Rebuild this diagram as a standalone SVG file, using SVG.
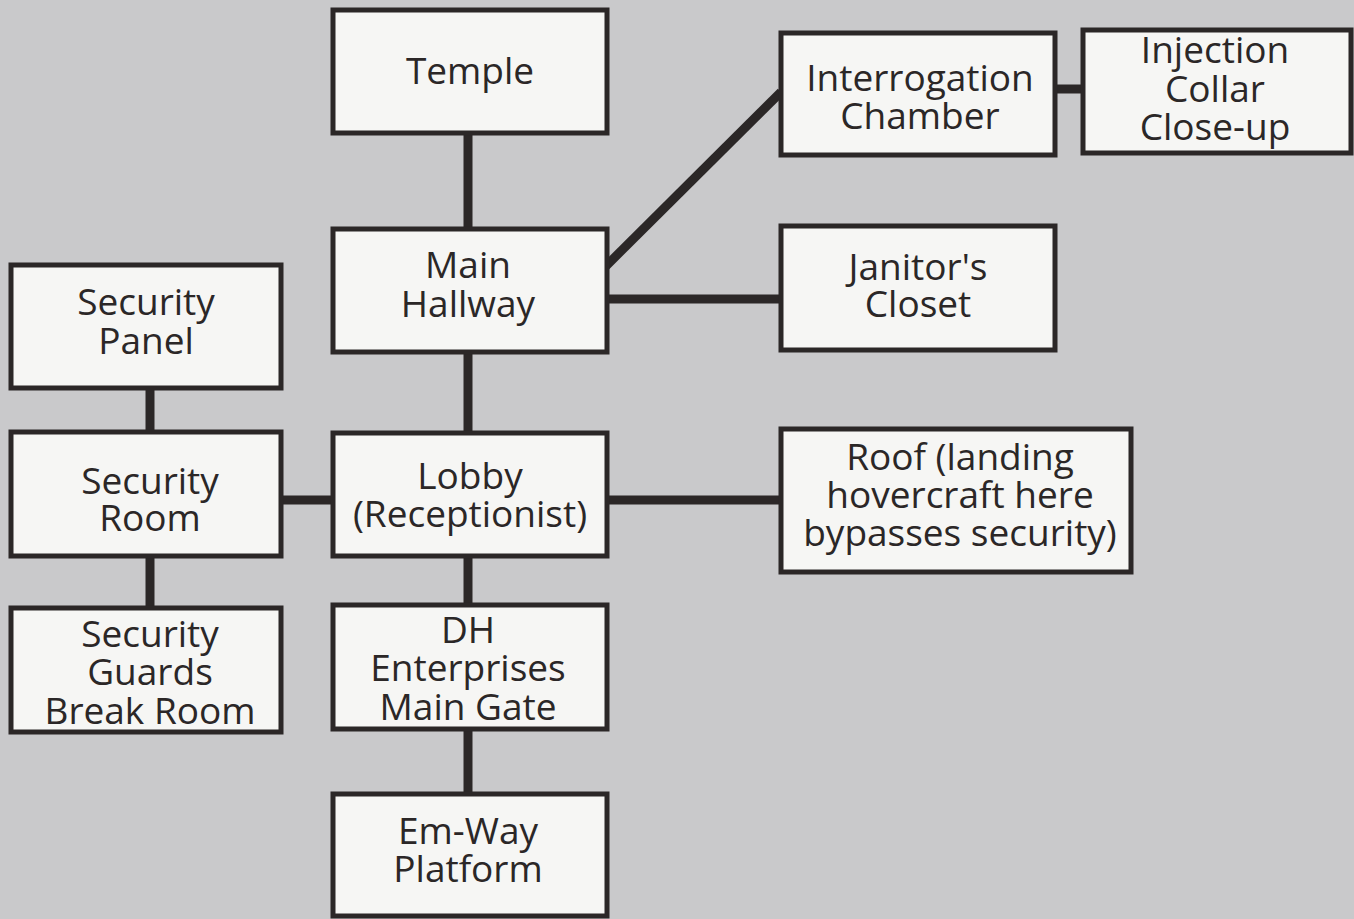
<svg xmlns="http://www.w3.org/2000/svg" width="1354" height="919" viewBox="0 0 1354 919">
<style>
.bg{fill:#c9c9cb}
.box{fill:#f6f6f4;stroke:#2b2727;stroke-width:5}
.c{stroke:#2b2727;stroke-width:9;fill:none}
text{font-family:"Open Sans","Noto Sans","Liberation Sans",sans-serif;font-size:37px;fill:#2b2727;text-anchor:middle}
</style>
<rect class="bg" x="0" y="0" width="1354" height="919"/>
<g id="connectors">
<line class="c" x1="468" y1="133" x2="468" y2="229"/>
<line class="c" x1="468" y1="352" x2="468" y2="433"/>
<line class="c" x1="468" y1="556" x2="468" y2="605"/>
<line class="c" x1="468" y1="729" x2="468" y2="794"/>
<line class="c" x1="606" y1="266" x2="781" y2="92"/>
<line class="c" x1="606" y1="299" x2="781" y2="299"/>
<line class="c" x1="606" y1="500" x2="781" y2="500"/>
<line class="c" x1="281" y1="500" x2="334" y2="500"/>
<line class="c" x1="150" y1="388" x2="150" y2="432"/>
<line class="c" x1="150" y1="556" x2="150" y2="608"/>
<line class="c" x1="1055" y1="89" x2="1083" y2="89"/>
</g>
<g id="temple"><rect class="box" x="333" y="10" width="274" height="123"/><text x="470" y="84">Temple</text></g>
<g id="main-hallway"><rect class="box" x="333" y="229" width="274" height="123"/><text x="468" y="278">Main</text><text x="468" y="317">Hallway</text></g>
<g id="lobby"><rect class="box" x="333" y="433" width="274" height="123"/><text x="470" y="489">Lobby</text><text x="470" y="527">(Receptionist)</text></g>
<g id="main-gate"><rect class="box" x="333" y="605" width="274" height="124"/><text x="468" y="643">DH</text><text x="468" y="681">Enterprises</text><text x="468" y="720">Main Gate</text></g>
<g id="em-way"><rect class="box" x="333" y="794" width="274" height="122"/><text x="468" y="844">Em-Way</text><text x="468" y="882">Platform</text></g>
<g id="security-panel"><rect class="box" x="11" y="265" width="270" height="123"/><text x="146" y="315">Security</text><text x="146" y="354">Panel</text></g>
<g id="security-room"><rect class="box" x="11" y="432" width="270" height="124"/><text x="150" y="494">Security</text><text x="150" y="531">Room</text></g>
<g id="break-room"><rect class="box" x="11" y="608" width="270" height="124"/><text x="150" y="647">Security</text><text x="150" y="685">Guards</text><text x="150" y="724">Break Room</text></g>
<g id="interrogation"><rect class="box" x="781" y="33" width="274" height="122"/><text x="920" y="91">Interrogation</text><text x="920" y="129">Chamber</text></g>
<g id="injection"><rect class="box" x="1083" y="30" width="268" height="123"/><text x="1215" y="63">Injection</text><text x="1215" y="102">Collar</text><text x="1215" y="140">Close-up</text></g>
<g id="janitor"><rect class="box" x="781" y="226" width="274" height="124"/><text x="918" y="280">Janitor's</text><text x="918" y="317">Closet</text></g>
<g id="roof"><rect class="box" x="781" y="429" width="350" height="143"/><text x="960" y="470">Roof (landing</text><text x="960" y="508">hovercraft here</text><text x="960" y="546">bypasses security)</text></g>
</svg>
